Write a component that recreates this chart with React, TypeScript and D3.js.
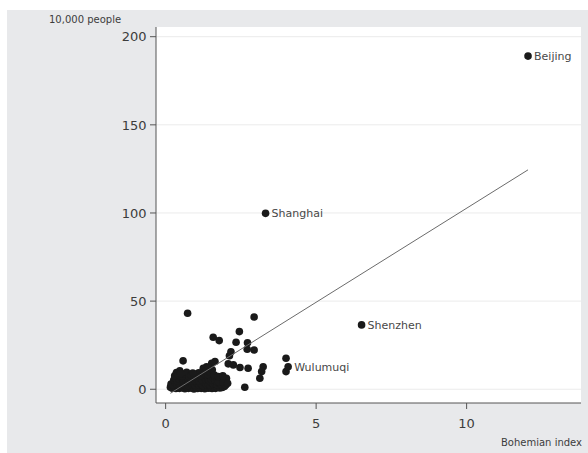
import React from 'react'
import * as d3 from 'd3'

// labelled cities: bohemian index vs population (10,000 people)
const labelNames = ['Beijing', 'Shanghai', 'Shenzhen', 'Wulumuqi']
const labelX = [12.04, 3.32, 6.51, 4.07]
const labelY = [189, 99.8, 36.5, 12.8]

// the rest of the cities, [bohemian index, population]
const otherCities: [number, number][] = [
  [4.0, 17.6], [4.0, 10.0], [0.73, 43.1], [2.94, 41.0],
  [1.58, 29.5], [1.78, 27.6], [2.45, 32.7], [2.34, 26.7], [2.72, 26.4],
  [2.71, 22.7], [2.94, 22.3], [2.17, 21.3], [2.12, 19.0],
  [2.08, 14.4], [2.25, 13.8], [2.47, 12.3], [2.74, 11.9],
  [3.24, 12.8], [3.19, 10.0], [3.13, 6.2], [2.63, 1.1], [0.58, 16.1],
  [1.64, 15.7], [1.53, 14.7], [1.36, 12.8], [1.25, 11.9],
  [0.16, 1.2], [0.22, 0.6], [0.28, 1.5], [0.34, 0.4], [0.4, 1.0], [0.46, 0.5],
  [0.52, 1.3], [0.58, 0.7], [0.64, 0.3], [0.7, 1.1], [0.76, 0.5], [0.82, 1.4],
  [0.88, 0.6], [0.94, 0.2], [1.0, 1.0], [1.06, 0.4], [1.12, 1.2], [1.18, 0.5],
  [1.24, 0.9], [1.3, 0.3], [1.36, 1.1], [1.42, 0.6], [1.48, 1.3], [1.54, 0.4],
  [1.6, 0.9], [1.66, 0.5], [1.72, 1.2], [1.8, 0.7], [1.88, 1.0], [1.95, 1.6],
  [0.18, 3.0], [0.25, 2.4], [0.31, 3.8], [0.38, 2.7], [0.44, 3.5], [0.5, 2.2],
  [0.57, 3.9], [0.63, 2.6], [0.69, 3.3], [0.75, 2.1], [0.81, 3.7], [0.87, 2.8],
  [0.93, 3.4], [0.99, 2.3], [1.05, 3.6], [1.11, 2.5], [1.17, 3.1], [1.23, 2.2],
  [1.29, 3.8], [1.35, 2.7], [1.41, 3.2], [1.47, 2.4], [1.53, 3.5], [1.59, 2.9],
  [1.65, 3.3], [1.71, 2.6], [1.78, 3.4], [1.85, 2.5], [1.93, 3.0], [2.0, 2.4],
  [0.27, 5.2], [0.33, 6.1], [0.39, 4.7], [0.45, 5.8], [0.52, 6.6], [0.6, 4.9],
  [0.67, 5.5], [0.73, 6.3], [0.8, 4.6], [0.86, 5.7], [0.92, 6.4], [0.98, 5.0],
  [1.04, 5.9], [1.1, 4.8], [1.16, 6.2], [1.22, 5.3], [1.28, 6.8], [1.34, 5.1],
  [1.4, 6.0], [1.46, 4.7], [1.52, 5.6], [1.58, 6.5], [1.64, 5.0], [1.7, 4.6],
  [1.82, 5.4], [1.97, 4.8], [2.02, 6.2], [1.76, 4.2], [1.9, 4.0], [2.06, 3.4],
  [0.3, 7.6], [0.36, 9.5], [0.42, 8.2], [0.47, 10.4], [0.55, 7.4], [0.62, 8.8],
  [0.7, 9.6], [0.78, 7.3], [0.85, 8.1], [0.95, 7.5], [1.03, 8.6], [1.1, 9.3],
  [1.18, 7.8], [1.26, 8.9], [1.33, 10.2], [1.4, 8.4], [1.47, 9.8], [1.55, 11.0],
  [1.43, 12.2], [1.62, 8.0], [1.75, 7.2], [1.9, 7.6], [0.5, 9.0], [0.9, 9.2]
]

// fitted line
const fitIntercept = -4.0
const fitSlope = 10.67

const xTicks = [0, 5, 10]
const yTicks = [0, 50, 100, 150, 200]

const font = '"DejaVu Sans", Verdana, sans-serif'

export default function App () {
  const left = 156, right = 581, top = 27, bottom = 403

  const x = d3.scaleLinear().domain([-0.32, 13.8]).range([left, right])
  const y = d3.scaleLinear().domain([-7.8, 205.5]).range([bottom, top])

  const allX = labelX.concat(otherCities.map(d => d[0]))
  const [minX, maxX] = d3.extent(allX) as [number, number]
  const fitLine = d3.line<number>()
    .x(d => x(d))
    .y(d => y(fitIntercept + fitSlope * d))

  return (
    <svg width={588} height={453} style={{position: 'absolute', left: 0, top: 0}}>
      <rect x={7} y={10} width={581} height={443} fill='#e8e9eb' />
      <rect x={left} y={top} width={right - left} height={bottom - top} fill='#ffffff' />

      {/* gridlines */}
      {yTicks.map(t => (
        <line key={'g' + t} x1={left} x2={right} y1={y(t)} y2={y(t)} stroke='#ebebeb' strokeWidth={1} />
      ))}

      {/* points */}
      {otherCities.map((d, i) => (
        <circle key={'p' + i} cx={x(d[0])} cy={y(d[1])} r={3.8} fill='#1a1a1a' />
      ))}
      {labelNames.map((n, i) => (
        <g key={n}>
          <circle cx={x(labelX[i])} cy={y(labelY[i])} r={3.8} fill='#1a1a1a' />
          <text x={x(labelX[i]) + 6} y={y(labelY[i]) + 4} fontFamily={font} fontSize={11} fill='#484848'>{n}</text>
        </g>
      ))}

      <path d={fitLine([minX, maxX]) || ''} stroke='#6b6b6b' strokeWidth={1} fill='none' />

      {/* axes */}
      <line x1={left} x2={left} y1={top} y2={bottom} stroke='#555' strokeWidth={1} />
      <line x1={left} x2={right} y1={bottom} y2={bottom} stroke='#555' strokeWidth={1} />
      {yTicks.map(t => (
        <g key={'y' + t}>
          <line x1={left - 6} x2={left} y1={y(t)} y2={y(t)} stroke='#555' />
          <text x={146.5} y={y(t)} dy='0.36em' textAnchor='end' fontFamily={font} fontSize={13} fill='#3c3c3c'>{t}</text>
        </g>
      ))}
      {xTicks.map(t => (
        <g key={'x' + t}>
          <line x1={x(t)} x2={x(t)} y1={bottom} y2={bottom + 6} stroke='#555' />
          <text x={x(t)} y={428} textAnchor='middle' fontFamily={font} fontSize={13} fill='#3c3c3c'>{t}</text>
        </g>
      ))}

      <text x={49} y={23} fontFamily={font} fontSize={10} fill='#3c3c3c'>10,000 people</text>
      <text x={582} y={446} textAnchor='end' fontFamily={font} fontSize={10} fill='#3c3c3c'>Bohemian index</text>
    </svg>
  )
}
